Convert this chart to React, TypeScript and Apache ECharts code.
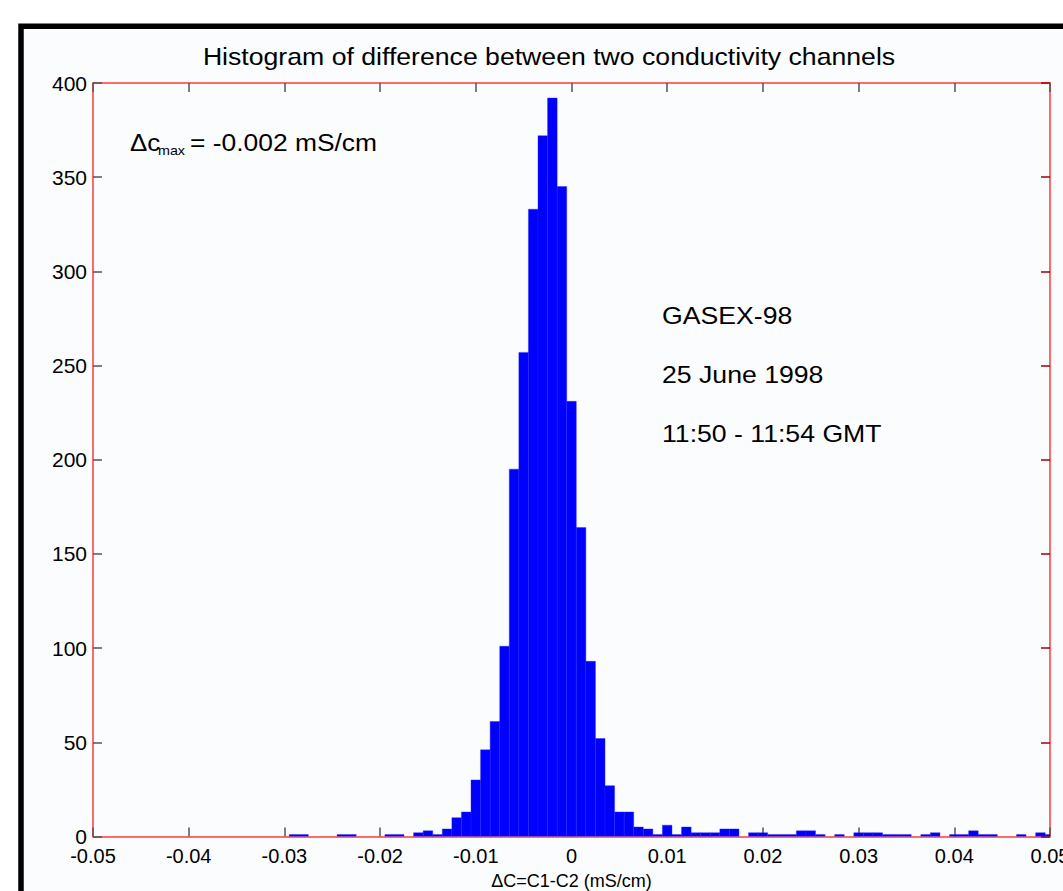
import React, { useEffect, useRef } from "react";
import * as echarts from "echarts";

// Histogram bins (bin centre, mS/cm) and counts (bins with a non-zero count)
const binCenters = [
  -0.029, -0.028, -0.024, -0.023, -0.019, -0.018, -0.016, -0.015, -0.014, -0.013,
  -0.012, -0.011, -0.010, -0.009, -0.008, -0.007, -0.006, -0.005, -0.004, -0.003,
  -0.002, -0.001, 0.0, 0.001, 0.002, 0.003, 0.004, 0.005, 0.006, 0.007,
  0.008, 0.009, 0.010, 0.011, 0.012, 0.013, 0.014, 0.015, 0.016, 0.017,
  0.019, 0.020, 0.021, 0.022, 0.023, 0.024, 0.025, 0.026, 0.028, 0.030,
  0.031, 0.032, 0.033, 0.034, 0.035, 0.037, 0.038, 0.040, 0.041, 0.042,
  0.043, 0.044, 0.047, 0.049, 0.050,
];
const counts = [
  1, 1, 1, 1, 1, 1, 2, 3, 1, 4,
  10, 13, 30, 46, 61, 101, 195, 257, 333, 372,
  392, 345, 231, 164, 93, 52, 27, 13, 13, 5,
  4, 1, 6, 1, 5, 2, 2, 2, 4, 4,
  2, 2, 1, 1, 1, 3, 3, 1, 1, 2,
  2, 2, 1, 1, 1, 1, 2, 1, 1, 3,
  1, 1, 1, 2, 1,
];
const binWidth = 0.001;

const titleText = "Histogram of difference between two conductivity channels";
const xAxisName = "ΔC=C1-C2 (mS/cm)";
const infoLines = ["GASEX-98", "25 June 1998", "11:50 - 11:54 GMT"];

const FONT = "'Liberation Sans', Arial, Helvetica, sans-serif";

export default function App() {
  const ref = useRef<HTMLDivElement>(null);

  useEffect(() => {
    if (!ref.current) return;
    const chart = echarts.init(ref.current, null, { renderer: "svg" });

    const data = binCenters.map((c, i) => [c, counts[i]]);

    const fmtX = (v: number) => (Math.abs(v) < 1e-9 ? "0" : v.toFixed(2));

    const option: any = {
      animation: false,
      backgroundColor: "#ffffff",
      textStyle: { fontFamily: FONT },
      grid: {
        left: 93,
        right: 13,
        top: 83,
        bottom: 54.5,
        containLabel: false,
        outerBoundsMode: "none",
      },
      xAxis: [
        {
          type: "value",
          position: "bottom",
          min: -0.05,
          max: 0.05,
          interval: 0.01,
          splitLine: { show: false },
          axisLine: { show: true, onZero: false, lineStyle: { color: "#ff3a3a", width: 1.5 } },
          axisTick: { show: true, inside: true, length: 9, lineStyle: { color: "#555", width: 1.5 } },
          axisLabel: {
            show: true,
            color: "#000",
            fontSize: 20,
            fontFamily: FONT,
            margin: 9,
            formatter: fmtX,
          },
          name: xAxisName,
          nameLocation: "middle",
          nameGap: 35,
          nameTextStyle: { color: "#000", fontSize: 18, fontFamily: FONT },
        },
        {
          type: "value",
          position: "top",
          min: -0.05,
          max: 0.05,
          interval: 0.01,
          splitLine: { show: false },
          axisLine: { show: true, onZero: false, lineStyle: { color: "#ff3a3a", width: 1.5 } },
          axisTick: { show: true, inside: true, length: 9, lineStyle: { color: "#555", width: 1.5 } },
          axisLabel: { show: false },
        },
      ],
      yAxis: [
        {
          type: "value",
          position: "left",
          min: 0,
          max: 400,
          interval: 50,
          splitLine: { show: false },
          axisLine: { show: true, onZero: false, lineStyle: { color: "#ff3a3a", width: 1.5 } },
          axisTick: { show: true, inside: true, length: 9, lineStyle: { color: "#555", width: 1.5 } },
          axisLabel: { show: true, color: "#000", fontSize: 21, fontFamily: FONT, margin: 6 },
        },
        {
          type: "value",
          position: "right",
          min: 0,
          max: 400,
          interval: 50,
          splitLine: { show: false },
          axisLine: { show: true, onZero: false, lineStyle: { color: "#ff3a3a", width: 1.5 } },
          axisTick: { show: true, inside: true, length: 9, lineStyle: { color: "#a00000", width: 1.5 } },
          axisLabel: { show: false },
        },
      ],
      series: [
        {
          type: "custom",
          xAxisIndex: 0,
          yAxisIndex: 0,
          clip: true,
          data,
          renderItem: (params: any, api: any) => {
            const x = api.value(0);
            const y = api.value(1);
            const p0 = api.coord([x - binWidth / 2, y]);
            const p1 = api.coord([x + binWidth / 2, 0]);
            return {
              type: "rect",
              shape: { x: p0[0], y: p0[1], width: p1[0] - p0[0], height: p1[1] - p0[1] },
              style: { fill: "#0000ff", stroke: "#2020ff", lineWidth: 0.4 },
            };
          },
          z: 1,
        },
      ],
      graphic: [
        {
          type: "rect",
          z: -100,
          silent: true,
          shape: { x: 21, y: 26.3, width: 1200, height: 1000 },
          style: { fill: "#fbfcfd", stroke: "#000", lineWidth: 5.5 },
        },
        {
          type: "text",
          z: 100,
          x: 549,
          y: 56,
          scaleX: 1.11,
          style: {
            text: titleText,
            fontSize: 24,
            fontFamily: FONT,
            fill: "#000",
            textAlign: "center",
            textVerticalAlign: "middle",
          },
        },
        {
          type: "text",
          z: 100,
          x: 130,
          y: 142,
          scaleX: 1.08,
          style: {
            text: "Δc",
            fontSize: 24,
            fontFamily: FONT,
            fill: "#000",
            textAlign: "left",
            textVerticalAlign: "middle",
          },
        },
        {
          type: "text",
          z: 100,
          x: 158,
          y: 151,
          scaleX: 1.1,
          style: {
            text: "max",
            fontSize: 13,
            fontFamily: FONT,
            fill: "#000",
            textAlign: "left",
            textVerticalAlign: "middle",
          },
        },
        {
          type: "text",
          z: 100,
          x: 190,
          y: 142,
          scaleX: 1.1,
          style: {
            text: "= -0.002 mS/cm",
            fontSize: 24,
            fontFamily: FONT,
            fill: "#000",
            textAlign: "left",
            textVerticalAlign: "middle",
          },
        },
        ...infoLines.map((t, i) => ({
          type: "text",
          z: 100,
          x: 662,
          y: 315 + i * 59,
          scaleX: 1.11,
          style: {
            text: t,
            fontSize: 24,
            fontFamily: FONT,
            fill: "#000",
            textAlign: "left",
            textVerticalAlign: "middle",
          },
        })),
      ],
    };

    chart.setOption(option);
    return () => chart.dispose();
  }, []);

  return (
    <div
      ref={ref}
      style={{ position: "fixed", left: 0, top: 0, width: 1063, height: 891 }}
    />
  );
}
